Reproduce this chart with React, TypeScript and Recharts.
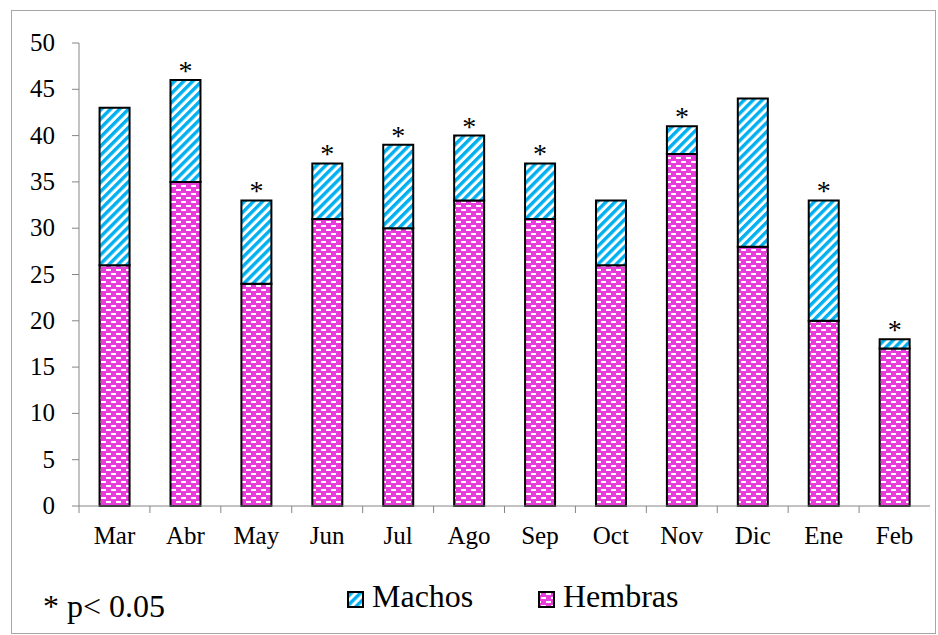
import { BarChart, Bar, XAxis, YAxis, Legend, LabelList } from 'recharts'

const months = ['Mar', 'Abr', 'May', 'Jun', 'Jul', 'Ago', 'Sep', 'Oct', 'Nov', 'Dic', 'Ene', 'Feb']
const hembras = [26, 35, 24, 31, 30, 33, 31, 26, 38, 28, 20, 17]
const machos = [17, 11, 9, 6, 9, 7, 6, 7, 3, 16, 13, 1]
const significant = [false, true, true, true, true, true, true, false, true, false, true, true]
const yTicks = [0, 5, 10, 15, 20, 25, 30, 35, 40, 45, 50]

const data = months.map((m, i) => ({
  month: m,
  hembras: hembras[i],
  machos: machos[i],
  sig: significant[i],
}))

const W = 938
const H = 635
const margin = { top: 43, right: 8, bottom: 99, left: 0 }
const yAxisWidth = 79
const step = (W - margin.left - margin.right - yAxisWidth) / months.length

const font = 'Liberation Serif, Times New Roman, serif'
const axisGray = '#868686'

function MonthTick({ x, y, payload }: any) {
  return (
    <g>
      <line x1={x - step / 2} x2={x - step / 2} y1={y} y2={y + 7} stroke={axisGray} />
      <text x={x} y={y + 38} textAnchor="middle" fontSize={25} fontFamily={font} fill="#000">
        {payload.value}
      </text>
    </g>
  )
}

function ValueTick({ x, y, payload }: any) {
  return (
    <g>
      <line x1={x} x2={x + 7} y1={y} y2={y} stroke={axisGray} />
      <text x={x - 17} y={y + 8} textAnchor="end" fontSize={25} fontFamily={font} fill="#000">
        {payload.value}
      </text>
    </g>
  )
}

function Star({ x, y, width, index }: any) {
  if (!data[index]?.sig) return null
  return (
    <text x={x + width / 2} y={y} textAnchor="middle" fontSize={28} fontFamily={font} fill="#000">
      *
    </text>
  )
}

function LegendBox({ payload }: any) {
  const items = [...(payload ?? [])].reverse()
  const pos = [347, 538]
  return (
    <div style={{ position: 'relative', height: 0 }}>
      <svg width={W} height={55} style={{ position: 'absolute', left: 0, top: 0, overflow: 'visible' }}>
        {items.map((it: any, i: number) => (
          <g key={it.value}>
            <rect x={pos[i] + 1} y={12} width={15} height={15} fill={it.color} stroke="#000" strokeWidth={2} />
            <text x={pos[i] + 25} y={27} fontSize={32} fontFamily={font} fill="#000">
              {it.value}
            </text>
          </g>
        ))}
        <text x={43} y={37} fontSize={32} fontFamily={font} fill="#000">
          * p&lt; 0.05
        </text>
      </svg>
    </div>
  )
}

export default function App() {
  return (
    <div style={{ position: 'absolute', left: 0, top: 0, width: W, height: H, background: '#fff' }}>
      <svg width={0} height={0} style={{ position: 'absolute' }}>
        <defs>
          <pattern id="machosPat" width={6.4} height={8} patternUnits="userSpaceOnUse" patternTransform="rotate(45)">
            <rect width={6.4} height={8} fill="#fff" />
            <rect width={3.4} height={8} fill="#00B0F0" />
          </pattern>
          <pattern id="hembrasPat" width={10} height={8} patternUnits="userSpaceOnUse">
            <rect width={10} height={8} fill="#E83CDB" />
            <rect x={1} y={1} width={5} height={2} fill="#fff" />
            <rect x={6} y={5} width={4} height={2} fill="#fff" />
            <rect x={0} y={5} width={1} height={2} fill="#fff" />
          </pattern>
        </defs>
      </svg>
      <div
        style={{
          position: 'absolute',
          left: 11,
          top: 10,
          width: 923,
          height: 622,
          border: '1px solid #a6a6a6',
        }}
      />
      <BarChart width={W} height={H} data={data} margin={margin} barCategoryGap="29%">
        <YAxis
          ticks={yTicks}
          domain={[0, 50]}
          width={yAxisWidth}
          interval={0}
          tickLine={false}
          tickSize={7}
          tickMargin={0}
          stroke={axisGray}
          tick={<ValueTick />}
        />
        <XAxis
          dataKey="month"
          stroke={axisGray}
          tickLine={false}
          tickSize={0}
          tickMargin={0}
          interval={0}
          tick={<MonthTick />}
        />
        <Legend
          verticalAlign="bottom"
          wrapperStyle={{ left: 0, top: 580, width: W }}
          content={<LegendBox />}
        />
        <Bar dataKey="hembras" name="Hembras" stackId="a" fill="url(#hembrasPat)" stroke="#000" strokeWidth={2} isAnimationActive={false} />
        <Bar dataKey="machos" name="Machos" stackId="a" fill="url(#machosPat)" stroke="#000" strokeWidth={2} isAnimationActive={false}>
          <LabelList dataKey="machos" content={<Star />} />
        </Bar>
      </BarChart>
    </div>
  )
}
